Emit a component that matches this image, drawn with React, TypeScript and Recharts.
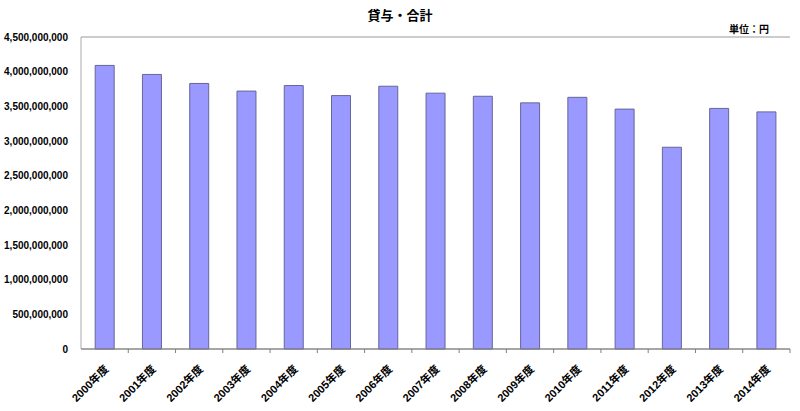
import React from 'react';
import { BarChart, Bar, XAxis, YAxis, CartesianGrid } from 'recharts';

const years = [
  '2000年度', '2001年度', '2002年度', '2003年度', '2004年度', '2005年度', '2006年度', '2007年度',
  '2008年度', '2009年度', '2010年度', '2011年度', '2012年度', '2013年度', '2014年度',
];
const totals = [
  4090000000, 3960000000, 3830000000, 3720000000, 3800000000, 3655000000, 3790000000, 3690000000,
  3645000000, 3550000000, 3630000000, 3460000000, 2910000000, 3470000000, 3420000000,
];
const yTicks = [0, 500000000, 1000000000, 1500000000, 2000000000, 2500000000, 3000000000, 3500000000, 4000000000, 4500000000];

const data = years.map((y, i) => ({ year: y, total: totals[i] }));

const W = 800;
const H = 411;
const M = { top: 37, right: 10, left: 0, bottom: 0 };
const Y_W = 81;
const X_H = 62;
const band = (W - M.right - Y_W) / years.length;
const FONT = '"Liberation Sans", "Noto Sans CJK JP", sans-serif';

// x tick: rotated label plus a small tick mark on the category boundary
const XTick = (props: any) => {
  const { x, y, payload } = props;
  const bx = x + band / 2;
  return (
    <g>
      <line x1={bx} y1={y - 8} x2={bx} y2={y - 4} stroke="#808080" />
      <text
        transform={`translate(${x + 2},${y + 10}) rotate(-45)`}
        textAnchor="end"
        dy="0.35em"
        fontSize={11}
        fontWeight={700}
        fill="#000"
        fontFamily={FONT}
      >
        {payload.value}
      </text>
    </g>
  );
};

export default function App() {
  return (
    <div style={{ position: 'absolute', left: 0, top: 0, width: W, height: H, background: '#fff', fontFamily: FONT }}>
      <div style={{ position: 'absolute', left: 0, top: 5, width: W, textAlign: 'center', fontSize: 13, fontWeight: 700 }}>
        貸与・合計
      </div>
      <div style={{ position: 'absolute', left: 729, top: 21, fontSize: 10, fontWeight: 700 }}>
        単位：円
      </div>
      <BarChart width={W} height={H} data={data} margin={M} barCategoryGap="30%">
        <CartesianGrid vertical={false} stroke="#999" />
        <XAxis
          dataKey="year"
          height={X_H}
          interval={0}
          tickLine={false}
          axisLine={{ stroke: '#808080' }}
          tick={<XTick />}
        />
        <YAxis
          yAxisId="l"
          width={Y_W}
          domain={[0, 4500000000]}
          ticks={yTicks}
          interval={0}
          tickLine={false}
          axisLine={{ stroke: '#aaa' }}
          tickFormatter={(v: number) => v.toLocaleString('en-US')}
          tick={{ fontSize: 10, fontWeight: 700, fill: '#000', fontFamily: FONT, dx: -5 }}
        />
        <YAxis yAxisId="r" orientation="right" width={0} tick={false} tickLine={false} axisLine={{ stroke: '#aaa' }} />
        <Bar yAxisId="l" dataKey="total" fill="#9999ff" stroke="#666699" strokeWidth={1} isAnimationActive={false} />
      </BarChart>
    </div>
  );
}
